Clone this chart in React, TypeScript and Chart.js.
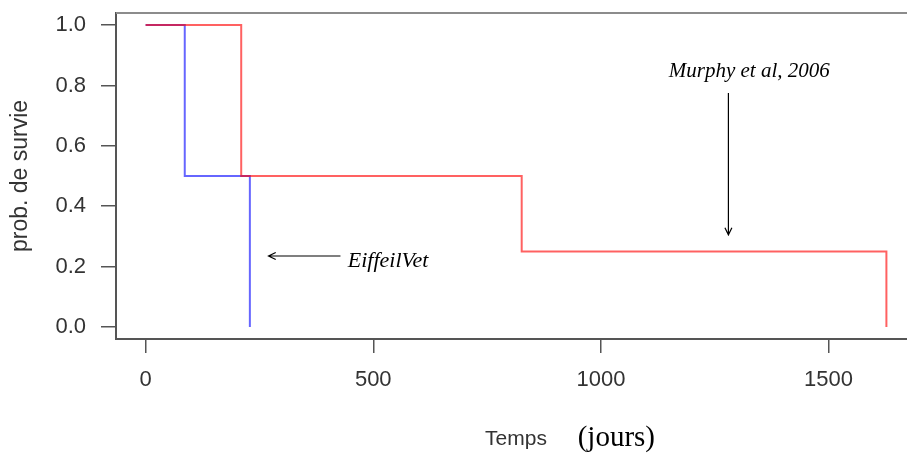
import React, { useEffect, useRef } from "react";
import { Chart, registerables } from "chart.js";

Chart.register(...registerables);

// ---- data (Kaplan-Meier style survival curves) ----
const blueTimes = [0, 86, 229];
const blueSurv = [1, 0.5, 0];
const redTimes = [0, 210, 826, 1627];
const redSurv = [1, 0.5, 0.25, 0];

const xTicks = [0, 500, 1000, 1500];
const yTicks = [0, 0.2, 0.4, 0.6, 0.8, 1.0];
const xRange = [-65, 1692];
const yRange = [-0.04, 1.04];

const xTitle = "Temps";
const xUnit = "(jours)";
const yTitle = "prob. de survie";
const murphyLabel = "Murphy et al, 2006";
const eiffelLabel = "EiffeilVet";

// annotation anchors, in data units
const murphyText = { x: 1149, y: 0.828 };
const murphyArrow = { x: 1280, y0: 0.775, y1: 0.305 };
const eiffelText = { x: 444, y: 0.2 };
const eiffelArrow = { y: 0.235, x0: 428, x1: 270 };
const unitAnchor = { x: 949, y: -0.394 };

function drawArrow(ctx: CanvasRenderingContext2D, x0: number, y0: number, x1: number, y1: number) {
  const a = Math.atan2(y1 - y0, x1 - x0);
  const len = 8;
  const spread = 0.45;
  ctx.beginPath();
  ctx.moveTo(x0, y0);
  ctx.lineTo(x1, y1);
  ctx.moveTo(x1 - len * Math.cos(a - spread), y1 - len * Math.sin(a - spread));
  ctx.lineTo(x1, y1);
  ctx.lineTo(x1 - len * Math.cos(a + spread), y1 - len * Math.sin(a + spread));
  ctx.stroke();
}

const annotPlugin = {
  id: "annot",
  afterDraw(chart: any) {
    const { ctx, chartArea, scales } = chart;
    const x = scales.x;
    const y = scales.y;
    ctx.save();
    // top / right part of the box
    ctx.strokeStyle = "#8c8c8c";
    ctx.lineWidth = 2;
    ctx.beginPath();
    ctx.moveTo(chartArea.left, chartArea.top);
    ctx.lineTo(chartArea.right, chartArea.top);
    ctx.lineTo(chartArea.right, chartArea.bottom);
    ctx.stroke();

    // arrows
    ctx.strokeStyle = "#000";
    ctx.lineWidth = 1.2;
    drawArrow(
      ctx,
      x.getPixelForValue(murphyArrow.x),
      y.getPixelForValue(murphyArrow.y0),
      x.getPixelForValue(murphyArrow.x),
      y.getPixelForValue(murphyArrow.y1)
    );
    drawArrow(
      ctx,
      x.getPixelForValue(eiffelArrow.x0),
      y.getPixelForValue(eiffelArrow.y),
      x.getPixelForValue(eiffelArrow.x1),
      y.getPixelForValue(eiffelArrow.y)
    );

    // labels
    ctx.fillStyle = "#000";
    ctx.textAlign = "left";
    ctx.textBaseline = "alphabetic";
    ctx.font = 'italic 21px "Liberation Serif"';
    ctx.fillText(murphyLabel, x.getPixelForValue(murphyText.x), y.getPixelForValue(murphyText.y));
    ctx.font = 'italic 22px "Liberation Serif"';
    ctx.fillText(eiffelLabel, x.getPixelForValue(eiffelText.x), y.getPixelForValue(eiffelText.y));

    ctx.font = '29px "Liberation Serif"';
    ctx.fillText(xUnit, x.getPixelForValue(unitAnchor.x), y.getPixelForValue(unitAnchor.y));
    ctx.restore();
  },
};

export default function App() {
  const ref = useRef<HTMLCanvasElement | null>(null);

  useEffect(() => {
    if (!ref.current) return;
    const sans = "'Liberation Sans', Arial, sans-serif";
    const chart = new Chart(ref.current, {
      type: "line",
      data: {
        datasets: [
          {
            label: "Murphy",
            data: redTimes.map((t, i) => ({ x: t, y: redSurv[i] })),
            borderColor: "rgba(255,0,0,0.62)",
            borderWidth: 2,
            pointRadius: 0,
            stepped: "before",
            fill: false,
          },
          {
            label: "EiffeilVet",
            data: blueTimes.map((t, i) => ({ x: t, y: blueSurv[i] })),
            borderColor: "rgba(0,0,255,0.6)",
            borderWidth: 2,
            pointRadius: 0,
            stepped: "before",
            fill: false,
          },
        ],
      },
      options: {
        animation: false,
        responsive: false,
        maintainAspectRatio: false,
        layout: { padding: { left: 0, top: 13, right: 14, bottom: 0 } },
        plugins: { legend: { display: false }, tooltip: { enabled: false }, title: { display: false } },
        scales: {
          x: {
            type: "linear",
            min: xRange[0],
            max: xRange[1],
            afterBuildTicks: (s: any) => {
              s.ticks = xTicks.map((v) => ({ value: v }));
            },
            afterFit: (s: any) => {
              s.height = 118;
              s.paddingLeft = 0;
              s.paddingRight = 0;
            },
            ticks: {
              color: "#333",
              font: { family: sans, size: 22 },
              padding: 14,
              maxRotation: 0,
              autoSkip: false,
              callback: (v: any) => String(v),
            },
            grid: { drawOnChartArea: false, drawTicks: true, tickLength: 14, color: "#555", lineWidth: 1.5 },
            border: { display: true, color: "#555", width: 2 },
            title: {
              display: true,
              text: xTitle,
              color: "#333",
              font: { family: sans, size: 21 },
              padding: { top: 0, bottom: 5 },
            },
          },
          y: {
            type: "linear",
            min: yRange[0],
            max: yRange[1],
            afterBuildTicks: (s: any) => {
              s.ticks = yTicks.map((v) => ({ value: v }));
            },
            afterFit: (s: any) => {
              s.width = 116;
              s.paddingTop = 0;
              s.paddingBottom = 0;
            },
            ticks: {
              color: "#333",
              font: { family: sans, size: 22 },
              padding: 15,
              autoSkip: false,
              callback: (v: any) => Number(v).toFixed(1),
            },
            grid: { drawOnChartArea: false, drawTicks: true, tickLength: 15, color: "#555", lineWidth: 1.5 },
            border: { display: true, color: "#555", width: 2 },
            title: {
              display: true,
              text: yTitle,
              color: "#333",
              font: { family: sans, size: 23 },
              padding: { top: 7, bottom: 0 },
            },
          },
        },
      },
      plugins: [annotPlugin],
    } as any);
    return () => chart.destroy();
  }, []);

  return (
    <div
      style={{
        position: "fixed",
        left: 0,
        top: 0,
        width: 907,
        height: 457,
        overflow: "hidden",
        background: "#fff",
      }}
    >
      <canvas ref={ref} width={930} height={457} style={{ width: 930, height: 457, display: "block" }} />
    </div>
  );
}
